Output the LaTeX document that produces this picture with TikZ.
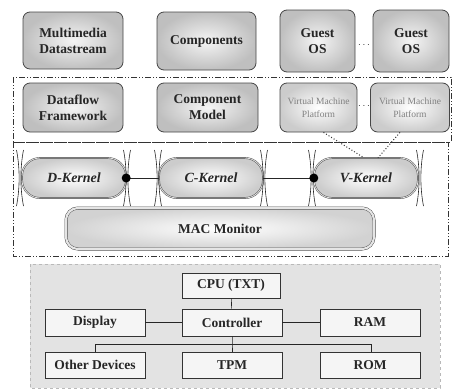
\documentclass[tikz,border=0pt]{standalone}
\usepackage{fontspec}
\setmainfont{Liberation Serif}
\begin{document}
\begin{tikzpicture}[x=1pt,y=-1pt,
  font=\fontsize{13.5}{16}\selectfont\bfseries,
  every node/.style={text=black!85},
  topbox/.style={draw=gray!55!black, line width=0.8pt, rounded corners=7pt,
     inner color=gray!8, outer color=gray!50, align=center, inner sep=1pt},
  vmbox/.style={draw=gray!55!black, line width=0.8pt, rounded corners=7pt,
     inner color=white, outer color=gray!40, align=center, inner sep=1pt,
     font=\fontsize{9.5}{13}\selectfont, text=gray},
  kernel/.style={draw=gray!50!black, double=gray!25, double distance=0.9pt,
     rounded corners=18pt, minimum width=104pt, minimum height=40pt,
     inner color=white, outer color=gray!40,
     font=\fontsize{14}{16}\selectfont\bfseries\itshape},
  macbox/.style={draw=gray!50!black, double=gray!20, double distance=2.2pt,
     rounded corners=12pt, minimum width=308pt, minimum height=41pt,
     inner color=white, outer color=gray!35},
  frame/.style={draw=gray!40!black, line width=0.8pt,
     dash pattern=on 6pt off 2pt on 1pt off 2pt on 1pt off 2pt},
  hw/.style={draw=gray!40!black, fill=gray!8, line width=0.6pt,
     minimum width=100pt, minimum height=26pt, inner sep=1pt},
  link/.style={draw=gray!30!black, line width=0.6pt},
  bowtie/.pic={
     \draw[gray!30!black, line width=0.6pt] (-3.5,-28) .. controls (0,-10) and (0,10) .. (-3.5,28);
     \draw[gray!30!black, line width=0.6pt] (3.5,-28) .. controls (0,-10) and (0,10) .. (3.5,28);}
]
\useasboundingbox (0,0) rectangle (453,389);

% ---------- dash-dot frames ----------
\draw[frame] (13,77) rectangle (451,142);
\draw[frame] (13,142) rectangle (448,256);

% ---------- top row ----------
\node[topbox, minimum width=100pt, minimum height=57pt] (mm) at (73,40.5) {Multimedia\\Datastream};
\node[topbox, minimum width=99pt, minimum height=58pt] (comp) at (206.5,41) {Components};
\node[topbox, minimum width=75pt, minimum height=62pt] (g1) at (317.5,41) {Guest\\OS};
\node[topbox, minimum width=76pt, minimum height=62pt] (g2) at (411,41) {Guest\\OS};
\node[inner sep=0pt, font=\fontsize{10}{10}\selectfont] (gd) at (364,45) {$\cdots$};

% ---------- second row ----------
\node[topbox, minimum width=100pt, minimum height=49pt] (df) at (73,107.5) {Dataflow\\Framework};
\node[topbox, minimum width=101pt, minimum height=49pt] (cm) at (207.5,107.5) {Component\\Model};
\node[vmbox, minimum width=77pt, minimum height=49pt] (vm1) at (318.5,107.5) {Virtual Machine\\Platform};
\node[vmbox, minimum width=79pt, minimum height=49pt] (vm2) at (410,107.5) {Virtual Machine\\Platform};
\node[inner sep=0pt, font=\fontsize{10}{10}\selectfont] (vd) at (364,106) {$\cdots$};

% ---------- kernels ----------
\node[kernel] (dk) at (74,178) {D-Kernel};
\node[kernel] (ck) at (211,178) {C-Kernel};
\node[kernel] (vk) at (366,178) {V-Kernel};
\pic at (20,178) {bowtie};
\pic at (127,178) {bowtie};
\pic at (158,178) {bowtie};
\pic at (264,178) {bowtie};
\pic at (312,178) {bowtie};
\pic at (420,178) {bowtie};
\draw[link] (dk.east) -- (ck.west);
\draw[link] (ck.east) -- (vk.west);
\fill[black] (dk.east) circle (4.5pt);
\fill[black] (vk.west) circle (4.5pt);

% dotted links from VM platforms to V-Kernel
\draw[gray!40!black, line width=1pt, dotted] ([xshift=5pt]vm1.south) -- ([xshift=-2pt]vk.north);
\draw[gray!40!black, line width=1pt, dotted] ([xshift=-10pt]vm2.south) -- ([xshift=12pt]vk.north);

% ---------- MAC monitor ----------
\node[macbox] (mac) at (220,228.5) {MAC Monitor};

% ---------- hardware ----------
\draw[draw=gray!55, fill=gray!22, dashed, line width=0.6pt] (30,264) rectangle (440,388);
\node[hw, minimum width=98pt, minimum height=25pt] (cpu) at (231,285.5) {CPU (TXT)};
\node[hw, minimum height=27pt] (ctl) at (232,322.5) {Controller};
\node[hw, minimum height=27pt] (disp) at (95,322.5) {Display};
\node[hw, minimum height=27pt] (ram) at (370,322.5) {RAM};
\node[hw] (od) at (95,365) {Other Devices};
\node[hw] (tpm) at (232,365) {TPM};
\node[hw] (rom) at (370,365) {ROM};
\coordinate (bus) at (232,344);
\coordinate (busl) at (95,344);
\coordinate (busr) at (371,344);
\draw[link] (cpu) -- (ctl);
\draw[link] (disp) -- (ctl);
\draw[link] (ctl) -- (ram);
\draw[link] (ctl.south) -- (bus) -- (tpm.north);
\draw[link] (busl) -- (busr);
\draw[link] (busl) -- (od.north);
\draw[link] (busr) -- (rom.north -| busr);
\end{tikzpicture}
\end{document}
